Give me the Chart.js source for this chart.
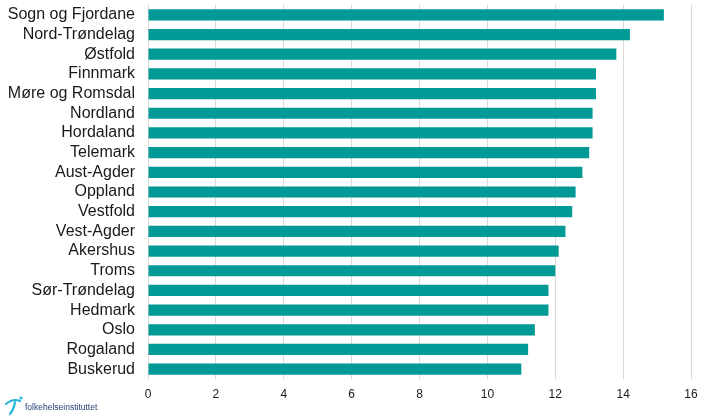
<!DOCTYPE html>
<html>
<head>
<meta charset="utf-8">
<script src="https://cdn.jsdelivr.net/npm/chart.js@4/dist/chart.umd.min.js"></script>
<style>
  html, body { margin: 0; padding: 0; background: #fff; }
  #wrap { width: 716px; height: 420px; position: relative; }
</style>
</head>
<body>
<div id="wrap"><canvas id="chart" width="716" height="420"></canvas></div>
<script>
const counties = [
  'Sogn og Fjordane', 'Nord-Trøndelag', 'Østfold', 'Finnmark', 'Møre og Romsdal',
  'Nordland', 'Hordaland', 'Telemark', 'Aust-Agder', 'Oppland', 'Vestfold',
  'Vest-Agder', 'Akershus', 'Troms', 'Sør-Trøndelag', 'Hedmark', 'Oslo',
  'Rogaland', 'Buskerud'
];
const values = [
  15.2, 14.2, 13.8, 13.2, 13.2,
  13.1, 13.1, 13.0, 12.8, 12.6, 12.5,
  12.3, 12.1, 12.0, 11.8, 11.8, 11.4,
  11.2, 11.0
];
const xTicks = [0, 2, 4, 6, 8, 10, 12, 14, 16];
const logoText = 'folkehelseinstituttet';

const BAR_COLOR = '#009a96';

// small institute logo in the lower left corner
const logoPlugin = {
  id: 'logo',
  afterDraw(chart) {
    const ctx = chart.ctx;
    ctx.save();
    // swoosh figure
    ctx.strokeStyle = '#29b6d8';
    ctx.fillStyle = '#29b6d8';
    ctx.lineWidth = 2.2;
    ctx.lineCap = 'round';
    ctx.beginPath();
    ctx.moveTo(6, 404);
    ctx.quadraticCurveTo(13, 398, 20, 401);
    ctx.stroke();
    ctx.beginPath();
    ctx.moveTo(15, 402);
    ctx.quadraticCurveTo(14, 409, 10, 414);
    ctx.stroke();
    ctx.beginPath();
    ctx.arc(21, 398, 1.6, 0, Math.PI * 2);
    ctx.fill();
    // name
    ctx.fillStyle = '#223d78';
    ctx.font = '8.5px "Liberation Sans", Arial, sans-serif';
    ctx.textBaseline = 'middle';
    ctx.fillText(logoText, 25, 408);
    ctx.restore();
  }
};

new Chart(document.getElementById('chart'), {
  type: 'bar',
  data: {
    labels: counties,
    datasets: [{
      data: values,
      backgroundColor: BAR_COLOR,
      borderWidth: 0,
      categoryPercentage: 1,
      barPercentage: 0.57
    }]
  },
  options: {
    indexAxis: 'y',
    responsive: false,
    animation: false,
    layout: { padding: { top: 5, right: 25, bottom: 0, left: 0 } },
    plugins: {
      legend: { display: false },
      tooltip: { enabled: false }
    },
    scales: {
      x: {
        min: 0,
        max: 16,
        afterBuildTicks: scale => { scale.ticks = xTicks.map(v => ({ value: v })); },
        afterFit: scale => {
          scale.height = 41;
          scale.paddingLeft = 0;
          scale.paddingRight = 0;
        },
        border: { display: false },
        grid: { color: '#d9d9d9', lineWidth: 1, drawTicks: false },
        ticks: {
          padding: 8,
          color: '#1a1a1a',
          font: { family: '"Liberation Sans", Arial, sans-serif', size: 12 }
        }
      },
      y: {
        afterFit: scale => {
          scale.width = 148;
          scale.paddingTop = 0;
          scale.paddingBottom = 0;
        },
        border: { display: false },
        grid: { display: false, drawTicks: false },
        ticks: {
          padding: 13,
          color: '#1a1a1a',
          autoSkip: false,
          font: { family: '"Liberation Sans", Arial, sans-serif', size: 16 }
        }
      }
    }
  },
  plugins: [logoPlugin]
});
</script>
</body>
</html>
